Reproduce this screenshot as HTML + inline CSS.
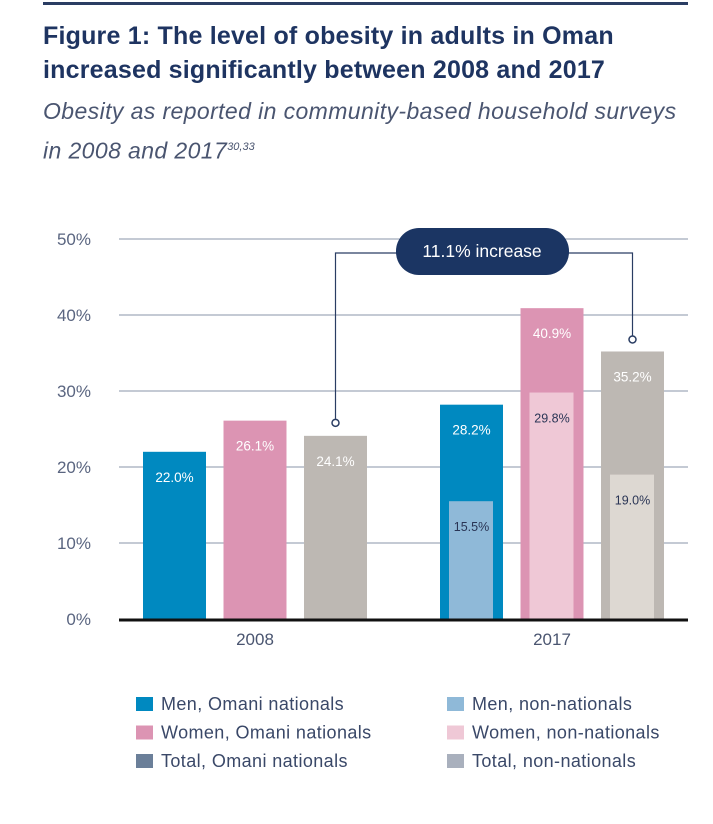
<!DOCTYPE html>
<html><head><meta charset="utf-8"><style>
body{margin:0;background:#fff;width:713px;height:824px;overflow:hidden;font-family:"Liberation Sans",sans-serif;}
.t{position:absolute;left:43px;color:#1e3461;white-space:nowrap;}
</style></head><body>
<div style="position:absolute;left:43px;top:2px;width:645px;height:3px;background:#2a3d63"></div>
<div class="t" style="top:19px;font-size:25px;font-weight:bold;line-height:34px;letter-spacing:0.2px">Figure 1: The level of obesity in adults in Oman<br>increased significantly between 2008 and 2017</div>
<div class="t" style="top:93px;font-size:23px;font-style:italic;line-height:36px;color:#4a5570;letter-spacing:0.4px">Obesity as reported in community-based household surveys<br>in 2008 and 2017<sup style="font-size:11px;letter-spacing:0">30,33</sup></div>
<svg id="chart" width="713" height="824" style="position:absolute;left:0;top:0" xmlns="http://www.w3.org/2000/svg"></svg>
<script>
const ticks=[0,10,20,30,40,50];
const tickLabels=["0%","10%","20%","30%","40%","50%"];
const years=["2008","2017"];
const omaniMen=[22.0,28.2];
const omaniWomen=[26.1,40.9];
const omaniTotal=[24.1,35.2];
const nonMen=[null,15.5];
const nonWomen=[null,29.8];
const nonTotal=[null,19.0];
const callout="11.1% increase";
const NS="http://www.w3.org/2000/svg";
const svg=document.getElementById('chart');
const y=v=>619-v*7.6;
const groupX=[143,440];
const barStep=80.5,barW=63;
function mk(tag,a,parent){const e=document.createElementNS(NS,tag);for(const k in a)e.setAttribute(k,a[k]);(parent||svg).appendChild(e);return e;}
ticks.forEach((t,i)=>{
  if(t>0){const l=mk('line',{x1:119,x2:688,y1:y(t),y2:y(t),stroke:'#8a94aa','stroke-width':1});
  
  }
  const tx=mk('text',{x:91,y:y(t)+6,'text-anchor':'end','font-size':17,fill:'#5a6580'});tx.textContent=tickLabels[i];
  
  
});
const outer=[[omaniMen,'#0089c0'],[omaniWomen,'#dc94b3'],[omaniTotal,'#bdb8b3']];
const inner=[[nonMen,'#8fb9d8'],[nonWomen,'#efc8d6'],[nonTotal,'#ddd8d2']];
years.forEach((yr,g)=>{
  outer.forEach(([arr,c],k)=>{
    const x=groupX[g]+k*barStep;const v=arr[g];
    const r=mk('rect',{x:x,y:y(v),width:barW,height:619-y(v),fill:c});
    
    
    const tx=mk('text',{x:x+barW/2,y:y(v)+30,'text-anchor':'middle','font-size':13.5,fill:'#fff'});tx.textContent=v.toFixed(1)+'%';
    
    
    const iv=inner[k][0][g];
    if(iv!=null){
      const ir=mk('rect',{x:x+9,y:y(iv),width:44,height:619-y(iv),fill:inner[k][1]});
      
      
      const it=mk('text',{x:x+barW/2,y:y(iv)+30,'text-anchor':'middle','font-size':12.5,fill:'#2a3555'});it.textContent=iv.toFixed(1)+'%';
      
      
    }
  });
  const yl=mk('text',{x:groupX[g]+barStep+barW/2,y:645,'text-anchor':'middle','font-size':17,fill:'#4a5570'});yl.textContent=yr;
  
  
});
const base=mk('line',{x1:119,x2:688,y1:620,y2:620,stroke:'#111','stroke-width':3});


const lx=groupX[0]+2*barStep+barW/2, rx=groupX[1]+2*barStep+barW/2;
const ly=y(omaniTotal[0])-13, ry=y(omaniTotal[1])-12;
const cl=mk('path',{d:`M${lx} ${ly-4}V253H${rx}V${ry-4}`,fill:'none',stroke:'#2a3d63','stroke-width':1.2});


[[lx,ly],[rx,ry]].forEach(([cx,cy])=>{const c=mk('circle',{cx:cx,cy:cy,r:3.5,fill:'#fff',stroke:'#2a3d63','stroke-width':1.5});

});
const pill=mk('rect',{x:396,y:228,width:173,height:47,rx:23,fill:'#1b3563'});


const pt=mk('text',{x:482,y:257,'text-anchor':'middle','font-size':17.5,fill:'#fff'});pt.textContent=callout;


const legendLabels=["Men, Omani nationals","Women, Omani nationals","Total, Omani nationals","Men, non-nationals","Women, non-nationals","Total, non-nationals"];
const legendColors=['#0089c0','#dc94b3','#6b7f99','#8fb9d8','#efc8d6','#a9b0bd'];
legendLabels.forEach((lab,i)=>{
  const col=Math.floor(i/3),row=i%3;const x=col?447:136,yy=697+row*28.5;
  const g=mk('g',{});
  
  
  mk('rect',{x:x,y:yy,width:17,height:14,fill:legendColors[i]},g);
  const t=mk('text',{x:x+25,y:yy+13,'font-size':18,'letter-spacing':0.4,fill:'#3a4868'},g);t.textContent=lab;
});
</script>
</body></html>
